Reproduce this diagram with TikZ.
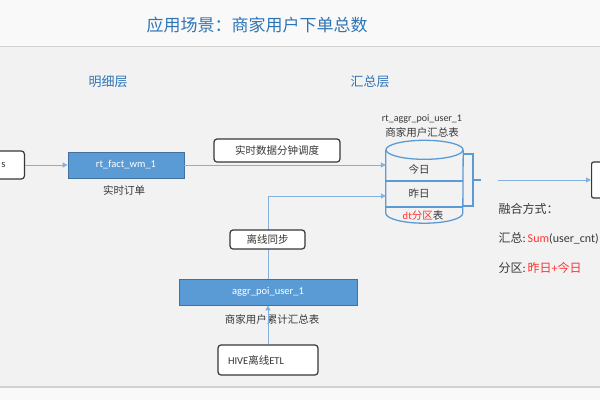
\documentclass[tikz,border=0pt]{standalone}
\usepackage{fontspec}
\setmainfont{Noto Sans CJK SC}
\newfontfamily\lat{Carlito}
\usetikzlibrary{positioning, arrows.meta, calc}
\definecolor{titleblue}{RGB}{46,117,182}
\definecolor{boxblue}{RGB}{91,155,213}
\definecolor{boxedge}{RGB}{65,113,156}
\definecolor{lineblue}{RGB}{132,176,222}
\definecolor{txtgray}{RGB}{55,55,55}
\definecolor{hired}{RGB}{255,51,51}
\definecolor{bggray}{RGB}{242,242,242}
\tikzset{
    >={Triangle[length=5pt,width=5pt]}, % small filled heads
    conn/.style={draw=lineblue, line width=0.9pt}, % flow lines
    tbl/.style={rectangle, fill=boxblue, draw=boxedge, line width=0.8pt, text=white, font=\lat\fontsize{10.5}{12}\selectfont},
    flow/.style={rectangle, rounded corners=3pt, draw=txtgray, line width=1.2pt, fill=white}, % label boxes
    layer/.style={text=titleblue, font=\fontsize{13}{15}\selectfont},
    cylline/.style={draw=boxblue, line width=1.3pt}
}

\begin{document}
\begin{tikzpicture}[x=1pt,y=-1pt,every node/.style={font=\fontsize{10.5}{12}\selectfont, text=txtgray}]
        \useasboundingbox (0,0) rectangle (600,400);
        \clip (0,0) rectangle (600,400);
        \fill[bggray] (0,0) rectangle (600,400);
        \fill[white!55!bggray] (0,0) rectangle (600,46);
        \fill[white!55!bggray] (0,388) rectangle (600,400);
        \draw[black!18, line width=1.5pt] (0,46.5) -- (600,46.5);
        \draw[black!18, line width=1.5pt] (0,387) -- (600,387);

        \node[font=\fontsize{17}{20}\selectfont, text=titleblue] (title) at (257,25) {应用场景：商家用户下单总数};
        \node[layer] (detail) at (108,82) {明细层};
        \node[layer] (summary) at (370,82) {汇总层};

        \node[flow, anchor=east, inner xsep=19pt, minimum height=28pt] (src) at (25,165) {{\lat s}};
        \node[tbl, minimum width=116pt, minimum height=26pt] (rt) at (126,165) {rt\_fact\_wm\_1};
        \node (rtlbl) at (124,190) {实时订单};

        \node[tbl, minimum width=178pt, minimum height=26pt] (aggr) at (268,292) {aggr\_poi\_user\_1};
        \node (aggrlbl) at (272,319) {商家用户累计汇总表};

        % cylinder
        \node[minimum width=77pt, minimum height=63pt, inner sep=0pt] (cyl) at (424.5,181.5) {};
        \draw[cylline, fill=bggray] (cyl.north west) -- (cyl.south west) arc[start angle=180, end angle=360, x radius=38.5pt, y radius=10pt] -- (cyl.north east);
        \draw[cylline, fill=bggray] (cyl.north) ellipse[x radius=38.5pt, y radius=9.5pt];
        \draw[cylline] (cyl.west |- 0,181) -- (cyl.east |- 0,181);
        \draw[cylline] (cyl.west |- 0,207) -- (cyl.east |- 0,207);
        \node (today) at (419,169) {今日};
        \node (yest) at (419,193) {昨日};
        \node (part) at (423,216) {\textcolor{hired}{{\lat dt}分区}表};
        \node[font=\lat\fontsize{10}{12}\selectfont] (cylname) at (422,119) {rt\_aggr\_poi\_user\_1};
        \node (cyllbl) at (422,132) {商家用户汇总表};

        \node[flow, minimum width=100pt, minimum height=30pt, text width=80pt, inner xsep=9pt, align=left] (hive) at (268,360) {{\lat HIVE}离线{\lat ETL}};
        \node[flow, anchor=west, minimum width=70pt, minimum height=36pt, rounded corners=2pt] (out) at (591,180) {};

        \draw[conn, ->] (src) -- (rt);
        \draw[conn, ->] (rt) -- (rt -| cyl.west);
        \draw[conn, ->] (aggr) -- (aggr |- 0,196) -- (cyl.west |- 0,196);
        \draw[conn, ->] (hive) -- (aggr);

        \node[flow, minimum width=126pt, minimum height=23pt] (rtflow) at (277,150.5) {实时数据分钟调度};
        \node[flow, minimum width=75pt, minimum height=19pt] (offflow) at (267.5,239.5) {离线同步};

        % merge bracket
        \coordinate (brk) at (481,180);
        \coordinate (mixout) at (498,180);
        \draw[cylline, line width=1.1pt] (cyl.east |- 0,154) -- (473,154) -- (473,206) -- (cyl.east |- 0,206);
        \draw[cylline, line width=1.1pt] (473,180) -- (brk);
        \draw[conn, ->] (mixout) -- (out.west);

        \node[anchor=west, font=\fontsize{12}{14}\selectfont] (mix) at (495,209) {融合方式：};
        \node[anchor=west, font=\fontsize{12}{14}\selectfont] (sumrule) at (495,238) {汇总{\lat :}\,\textcolor{hired}{\lat Sum}{\lat (user\_cnt)}};
        \node[anchor=west, font=\fontsize{12}{14}\selectfont] (partrule) at (495,268) {分区{\lat :}\,\textcolor{hired}{昨日{\lat +}今日}};
    \end{tikzpicture}
\end{document}
